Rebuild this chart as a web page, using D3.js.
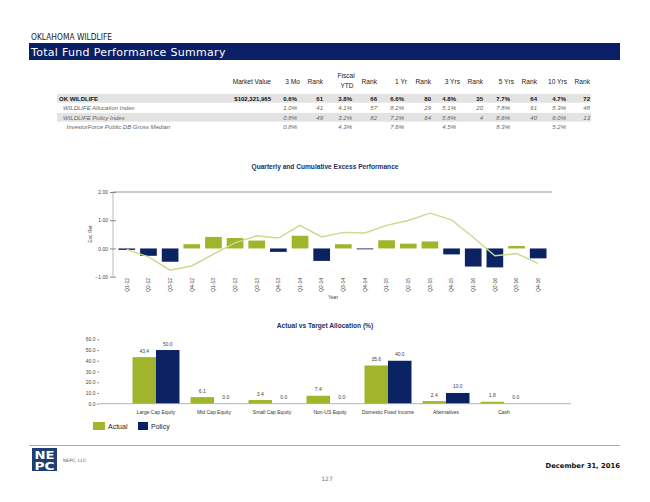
<!DOCTYPE html>
<html>
<head>
<meta charset="utf-8">
<script src="https://cdn.jsdelivr.net/npm/d3@7"></script>
<style>
  body { margin: 0; background: #fff; }
  svg { display: block; }
</style>
</head>
<body>
<script>
// ---- data ----
const rowNames = ["OK WILDLIFE", "WILDLIFE Allocation Index", "WILDLIFE Policy Index", "InvestorForce Public DB Gross Median"]
const marketValues = ["$102,321,965", "", "", ""]
const periods = ["3 Mo", "Fiscal YTD", "1 Yr", "3 Yrs", "5 Yrs", "10 Yrs"]
const returns = [
  ["0.6%", "3.8%", "6.6%", "4.8%", "7.7%", "4.7%"],
  ["1.0%", "4.1%", "8.2%", "5.1%", "7.8%", "5.3%"],
  ["0.8%", "3.2%", "7.2%", "5.8%", "8.6%", "6.0%"],
  ["0.8%", "4.3%", "7.6%", "4.5%", "8.3%", "5.2%"]
]
const ranks = [
  ["61", "66", "80", "35", "64", "72"],
  ["41", "57", "29", "20", "61", "48"],
  ["49", "82", "64", "4", "40", "13"],
  ["", "", "", "", "", ""]
]

const quarters = ["Q1-12", "Q2-12", "Q3-12", "Q4-12", "Q1-13", "Q2-13", "Q3-13", "Q4-13",
  "Q1-14", "Q2-14", "Q3-14", "Q4-14", "Q1-15", "Q2-15", "Q3-15", "Q4-15",
  "Q1-16", "Q2-16", "Q3-16", "Q4-16"]
const quarterlyExcess = [-0.05, -0.26, -0.47, 0.15, 0.41, 0.37, 0.28, -0.12,
  0.45, -0.44, 0.15, -0.03, 0.29, 0.17, 0.25, -0.21,
  -0.64, -0.67, 0.09, -0.35]
const cumulativeExcess = [-0.03, -0.3, -0.77, -0.62, -0.2, 0.2, 0.45, 0.37,
  0.82, 0.41, 0.57, 0.55, 0.82, 0.99, 1.25, 1.01,
  0.40, -0.26, -0.18, -0.53]
const excessTicks = [-1, 0, 1, 2]

const assetClasses = ["Large Cap Equity", "Mid Cap Equity", "Small Cap Equity", "Non-US Equity",
  "Domestic Fixed Income", "Alternatives", "Cash"]
const actualAlloc = [43.4, 6.1, 3.4, 7.4, 35.6, 2.4, 1.8]
const policyAlloc = [50.0, 0.0, 0.0, 0.0, 40.0, 10.0, 0.0]
const allocTicks = [0, 10, 20, 30, 40, 50, 60]

const navy = "#0b2263"
const green = "#a0b52c"
const lineGreen = "#cbd98f"

const svg = d3.select("body").append("svg").attr("width", 650).attr("height", 502)
svg.append("rect").attr("width", 650).attr("height", 502).attr("fill", "#fff")

// ---- page header ----
svg.append("text").attr("x", 31).attr("y", 40).text("OKLAHOMA WILDLIFE")
  .attr("font-family", "DejaVu Sans").attr("font-size", 8.5).attr("fill", "#222")
  .attr("textLength", 81).attr("lengthAdjust", "spacingAndGlyphs")
svg.append("rect").attr("x", 29).attr("y", 43).attr("width", 591).attr("height", 17).attr("fill", "#0a1f66")
svg.append("text").attr("x", 31).attr("y", 55.5).text("Total Fund Performance Summary")
  .attr("font-family", "DejaVu Sans").attr("font-size", 11).attr("fill", "#fff")
  .attr("letter-spacing", 0.3)

// ---- table ----
const tbl = svg.append("g").attr("font-family", "Liberation Sans, Arial, sans-serif")
const retRight = [297, 352, 404, 456, 510, 566]
const rankRight = [323, 377, 431, 483, 537, 590]
const hdrRight = [300, 354, 407, 460, 514, 567]

tbl.append("text").attr("x", 271).attr("y", 84).attr("text-anchor", "end")
  .attr("font-size", 6.6).attr("fill", "#222").text("Market Value")
periods.forEach((p, i) => {
  if (p === "Fiscal YTD") {
    tbl.append("text").attr("x", 346).attr("y", 78).attr("text-anchor", "middle")
      .attr("font-size", 6.6).attr("fill", "#222").text("Fiscal")
    tbl.append("text").attr("x", 347).attr("y", 88).attr("text-anchor", "middle")
      .attr("font-size", 6.6).attr("fill", "#222").text("YTD")
  } else {
    tbl.append("text").attr("x", hdrRight[i]).attr("y", 84).attr("text-anchor", "end")
      .attr("font-size", 6.6).attr("fill", "#222").text(p)
  }
  tbl.append("text").attr("x", rankRight[i]).attr("y", 84).attr("text-anchor", "end")
    .attr("font-size", 6.6).attr("fill", "#222").text("Rank")
})

rowNames.forEach((name, r) => {
  const base = 100.7 + r * 9.5
  const first = r === 0
  if (r % 2 === 0) {
    tbl.append("rect").attr("x", 57).attr("y", base - 6.8).attr("width", 534).attr("height", 8.8)
      .attr("fill", "#e3e3e3")
  }
  const style = sel => sel.attr("font-size", 6)
    .attr("font-weight", first ? "bold" : "normal")
    .attr("font-style", first ? "normal" : "italic")
    .attr("fill", first ? "#111" : "#666")
  style(tbl.append("text").attr("x", [59, 63, 63, 66.5][r]).attr("y", base).text(name))
  style(tbl.append("text").attr("x", 271).attr("y", base).attr("text-anchor", "end").text(marketValues[r]))
  returns[r].forEach((v, i) => {
    style(tbl.append("text").attr("x", retRight[i]).attr("y", base).attr("text-anchor", "end").text(v))
    style(tbl.append("text").attr("x", rankRight[i]).attr("y", base).attr("text-anchor", "end").text(ranks[r][i]))
  })
})

// ---- quarterly and cumulative excess ----
const ex = svg.append("g").attr("font-family", "Liberation Sans, Arial, sans-serif")
ex.append("text").attr("x", 325).attr("y", 169).attr("text-anchor", "middle")
  .attr("font-size", 6.6).attr("font-weight", "bold").attr("fill", "#1d2f66")
  .text("Quarterly and Cumulative Excess Performance")

const xq = d3.scaleBand().domain(quarters).range([116, 549]).paddingInner(0.23).paddingOuter(0.115)
const yq = d3.scaleLinear().domain([-1, 2]).range([276.7, 192])

ex.append("line").attr("x1", 113).attr("x2", 552).attr("y1", yq(2)).attr("y2", yq(2))
  .attr("stroke", "#b8b8b8").attr("stroke-width", 1.6)
ex.append("line").attr("x1", 113).attr("x2", 113).attr("y1", yq(2)).attr("y2", yq(-1))
  .attr("stroke", "#aaa").attr("stroke-width", 0.8)

const yAxisQ = ex.append("g").attr("transform", "translate(113,0)")
  .call(d3.axisLeft(yq).tickValues(excessTicks).tickFormat(d3.format(".2f")).tickSize(3).tickPadding(2))
yAxisQ.select(".domain").remove()
yAxisQ.selectAll(".tick line").attr("stroke", "#888").attr("x2", 3).attr("x1", -3)
yAxisQ.selectAll(".tick text").attr("font-size", 5).attr("fill", "#444")
  .attr("font-family", "Liberation Sans, Arial, sans-serif")

ex.selectAll(".qbar").data(quarterlyExcess).join("rect").attr("class", "qbar")
  .attr("x", (d, i) => xq(quarters[i]))
  .attr("width", xq.bandwidth())
  .attr("y", d => yq(Math.max(0, d)))
  .attr("height", d => Math.abs(yq(d) - yq(0)))
  .attr("fill", d => d >= 0 ? green : navy)

const cumLine = d3.line()
  .x((d, i) => xq(quarters[i]) + xq.bandwidth() / 2)
  .y(d => yq(d))
ex.append("path").datum(cumulativeExcess).attr("d", cumLine)
  .attr("fill", "none").attr("stroke", lineGreen).attr("stroke-width", 1.4)

ex.selectAll(".qlab").data(quarters).join("text").attr("class", "qlab")
  .attr("transform", d => `translate(${xq(d) + xq.bandwidth() / 2 + 1.8},278) rotate(-90)`)
  .attr("text-anchor", "end").attr("font-size", 5).attr("fill", "#444").text(d => d)

ex.append("text").attr("transform", "translate(92,234) rotate(-90)").attr("text-anchor", "middle")
  .attr("font-size", 5).attr("fill", "#444").text("Exc Ret")
ex.append("text").attr("x", 333).attr("y", 299).attr("text-anchor", "middle")
  .attr("font-size", 5).attr("fill", "#444").text("Year")

// ---- actual vs target allocation ----
const al = svg.append("g").attr("font-family", "Liberation Sans, Arial, sans-serif")
al.append("text").attr("x", 325).attr("y", 328).attr("text-anchor", "middle")
  .attr("font-size", 6.6).attr("font-weight", "bold").attr("fill", "#1d2f66")
  .text("Actual vs Target Allocation (%)")

const xa = d3.scaleBand().domain(assetClasses).range([127, 533]).paddingInner(0.19).paddingOuter(0.095)
const xs = d3.scaleBand().domain(["Actual", "Policy"]).range([0, xa.bandwidth()])
const ya = d3.scaleLinear().domain([0, 60]).range([403.7, 339.3])

const yAxisA = al.append("g").attr("transform", "translate(99,0)")
  .call(d3.axisLeft(ya).tickValues(allocTicks).tickFormat(d3.format(".1f")).tickSize(2).tickPadding(1.5))
yAxisA.select(".domain").remove()
yAxisA.selectAll(".tick line").attr("stroke", "#999")
yAxisA.selectAll(".tick text").attr("font-size", 5).attr("fill", "#444")
  .attr("font-family", "Liberation Sans, Arial, sans-serif")

const series = [
  { key: "Actual", values: actualAlloc, color: green },
  { key: "Policy", values: policyAlloc, color: navy }
]
series.forEach(s => {
  al.selectAll(".b" + s.key).data(s.values).join("rect").attr("class", "b" + s.key)
    .attr("x", (d, i) => xa(assetClasses[i]) + xs(s.key))
    .attr("width", xs.bandwidth())
    .attr("y", d => ya(d))
    .attr("height", d => ya(0) - ya(d))
    .attr("fill", s.color)
  al.selectAll(".l" + s.key).data(s.values).join("text").attr("class", "l" + s.key)
    .attr("x", (d, i) => xa(assetClasses[i]) + xs(s.key) + xs.bandwidth() / 2)
    .attr("y", d => ya(d) - 4.5)
    .attr("text-anchor", "middle").attr("font-size", 5).attr("fill", "#444")
    .text(d => d3.format(".1f")(d))
})

al.append("line").attr("x1", 99).attr("x2", 571).attr("y1", ya(0)).attr("y2", ya(0))
  .attr("stroke", "#aaa").attr("stroke-width", 0.9)

al.selectAll(".clab").data(assetClasses).join("text").attr("class", "clab")
  .attr("x", d => xa(d) + xa.bandwidth() / 2).attr("y", 413.5)
  .attr("text-anchor", "middle").attr("font-size", 5).attr("fill", "#333").text(d => d)

// legend
const legend = al.append("g")
series.forEach((s, i) => {
  const lx = [93, 138][i]
  legend.append("rect").attr("x", lx).attr("y", 422).attr("width", [12, 10][i]).attr("height", 8).attr("fill", s.color)
  legend.append("text").attr("x", lx + [15, 13][i]).attr("y", 429).attr("font-size", 7).attr("fill", "#222").text(s.key)
})

// ---- footer ----
svg.append("line").attr("x1", 29).attr("x2", 620).attr("y1", 445.5).attr("y2", 445.5)
  .attr("stroke", "#aaa").attr("stroke-width", 1)
const logo = svg.append("g")
logo.append("rect").attr("x", 32).attr("y", 448).attr("width", 25).attr("height", 23).attr("fill", "#1e3f73")
logo.append("text").attr("x", 44.5).attr("y", 458.5).attr("text-anchor", "middle")
  .attr("font-family", "DejaVu Sans").attr("font-weight", "bold").attr("font-size", 10.5)
  .attr("fill", "#fff").attr("textLength", 20).attr("lengthAdjust", "spacingAndGlyphs").text("NE")
logo.append("text").attr("x", 44.5).attr("y", 469.5).attr("text-anchor", "middle")
  .attr("font-family", "DejaVu Sans").attr("font-weight", "bold").attr("font-size", 10.5)
  .attr("fill", "#fff").attr("textLength", 20).attr("lengthAdjust", "spacingAndGlyphs").text("PC")
svg.append("text").attr("x", 63).attr("y", 461.5).attr("font-family", "DejaVu Sans")
  .attr("font-size", 4.5).attr("fill", "#555").text("NEPC, LLC")
svg.append("text").attr("x", 620).attr("y", 468).attr("text-anchor", "end").attr("font-family", "DejaVu Sans")
  .attr("font-size", 6.8).attr("font-weight", "bold").attr("fill", "#111").text("December 31, 2016")
svg.append("text").attr("x", 327).attr("y", 481).attr("text-anchor", "middle").attr("font-family", "DejaVu Sans")
  .attr("font-size", 6).attr("fill", "#777").text("127")
</script>
</body>
</html>
